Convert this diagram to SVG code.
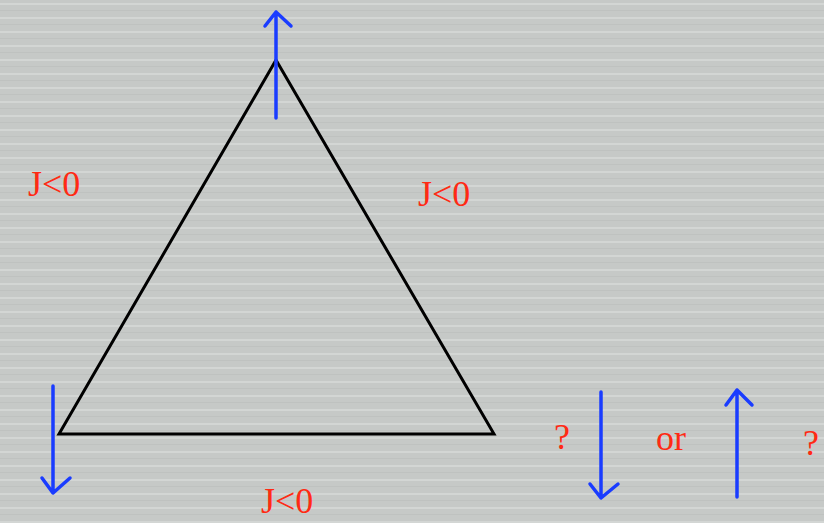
<svg xmlns="http://www.w3.org/2000/svg" width="824" height="523" viewBox="0 0 824 523">
<defs>
<pattern id="stripes" width="824" height="14" patternUnits="userSpaceOnUse">
<rect width="824" height="14" fill="#c6c9c7"/>
<rect y="3" width="824" height="2" fill="#d3d6d4"/>
<rect y="10" width="824" height="1" fill="#bfc2c0"/>
</pattern>
<style>
.lbl{font-family:"Liberation Serif","Times New Roman",serif;font-size:36px;fill:#ff2a14}
.spin{stroke:#1a3cff;stroke-width:3.5;fill:none;stroke-linecap:round;stroke-linejoin:round}
.edge{stroke:#000;stroke-width:3;fill:none;stroke-linejoin:miter}
</style>
</defs>
<rect width="824" height="523" fill="url(#stripes)"/>
<g id="connectors">
<path class="edge" d="M276,60 L59,434 L494,434 Z"/>
</g>
<g id="spin-top">
<path class="spin" d="M276,118 L276,12 M265,26 L276,12 L291,26"/>
</g>
<g id="spin-left">
<path class="spin" d="M53,386 L53,493 M42,478 L53,493 L70,478"/>
</g>
<g id="spin-right-down">
<path class="spin" d="M601,392 L601,498 M590,484 L601,498 L618,484"/>
</g>
<g id="spin-right-up">
<path class="spin" d="M737,497 L737,390 M726,405 L737,390 L752,405"/>
</g>
<g id="labels">
<text class="lbl" x="261" y="513">J&lt;0</text>
<text class="lbl" x="28" y="196">J&lt;0</text>
<text class="lbl" x="418" y="206">J&lt;0</text>
<text class="lbl" x="554" y="449">?</text>
<text class="lbl" x="656" y="450">or</text>
<text class="lbl" x="803" y="455">?</text>
</g>
</svg>
